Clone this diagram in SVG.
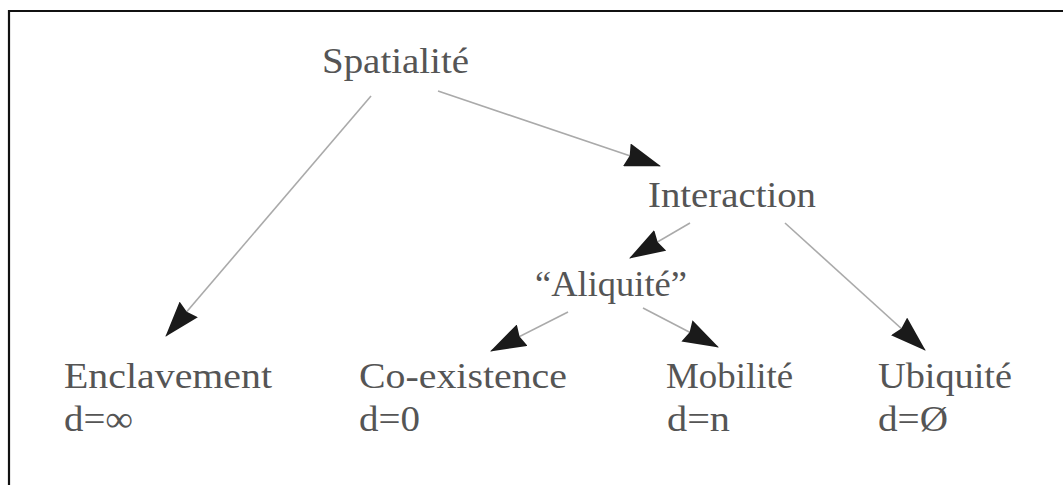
<svg xmlns="http://www.w3.org/2000/svg" width="1063" height="485" viewBox="0 0 1063 485">
<style>
.lbl{font-family:"Liberation Serif","DejaVu Serif",serif;font-size:36px;fill:#555}
.conn{stroke:#aaa;stroke-width:1.6;fill:none}
</style>
<defs>
<marker id="ah" markerUnits="userSpaceOnUse" viewBox="0 0 36 24" refX="35" refY="12" markerWidth="36" markerHeight="24" orient="auto">
<path d="M0,0 L36,12 L0,24 L3,12 z" fill="#1a1a1a"/>
</marker>
</defs>
<rect width="1063" height="485" fill="#fff"/>
<path d="M9,485 L9,11 L1063,11" stroke="#111" stroke-width="2.2" fill="none"/>
<g id="connectors">
<line class="conn" x1="371" y1="96" x2="166" y2="336" marker-end="url(#ah)"/>
<line class="conn" x1="438" y1="91" x2="660" y2="166" marker-end="url(#ah)"/>
<line class="conn" x1="690" y1="223" x2="630" y2="258" marker-end="url(#ah)"/>
<line class="conn" x1="785" y1="223" x2="925" y2="350" marker-end="url(#ah)"/>
<line class="conn" x1="568" y1="312" x2="491" y2="351" marker-end="url(#ah)"/>
<line class="conn" x1="643" y1="308" x2="718" y2="347" marker-end="url(#ah)"/>
</g>
<g id="spatialite"><text class="lbl" x="322" y="73" textLength="147" lengthAdjust="spacingAndGlyphs">Spatialité</text></g>
<g id="interaction"><text class="lbl" x="648" y="207" textLength="168" lengthAdjust="spacingAndGlyphs">Interaction</text></g>
<g id="aliquite"><text class="lbl" x="535" y="296" textLength="152" lengthAdjust="spacingAndGlyphs">“Aliquité”</text></g>
<g id="enclavement">
<text class="lbl" x="64" y="388" textLength="208" lengthAdjust="spacingAndGlyphs">Enclavement</text>
<text class="lbl" x="64" y="431" textLength="69" lengthAdjust="spacingAndGlyphs">d=∞</text>
</g>
<g id="coexistence">
<text class="lbl" x="359" y="388" textLength="208" lengthAdjust="spacingAndGlyphs">Co-existence</text>
<text class="lbl" x="359" y="431" textLength="61" lengthAdjust="spacingAndGlyphs">d=0</text>
</g>
<g id="mobilite">
<text class="lbl" x="666" y="388" textLength="127" lengthAdjust="spacingAndGlyphs">Mobilité</text>
<text class="lbl" x="667" y="431" textLength="63" lengthAdjust="spacingAndGlyphs">d=n</text>
</g>
<g id="ubiquite">
<text class="lbl" x="878" y="388" textLength="134" lengthAdjust="spacingAndGlyphs">Ubiquité</text>
<text class="lbl" x="878" y="431" textLength="70" lengthAdjust="spacingAndGlyphs">d=Ø</text>
</g>
</svg>
